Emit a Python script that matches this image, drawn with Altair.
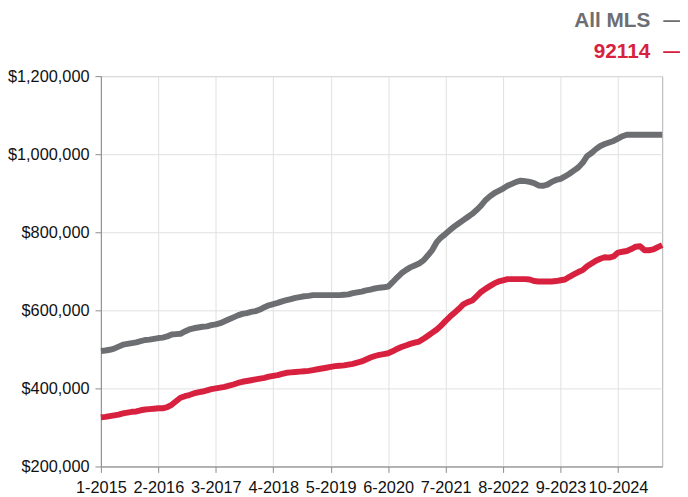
import altair as alt
import pandas as pd

# Month categories Jan 2015 .. Aug 2025
months = []
for yr in range(2015, 2026):
    for mo in range(1, 13):
        if yr == 2025 and mo > 8:
            break
        months.append(f"{mo}-{yr}")

tick_labels = ["1-2015", "2-2016", "3-2017", "4-2018", "5-2019",
               "6-2020", "7-2021", "8-2022", "9-2023", "10-2024"]

series_names = ["All MLS", "92114"]
series_colors = ["#6d6e72", "#d7213f"]

# Rolling median sale price, thousands of dollars
all_mls = [
    496, 497, 499, 502, 507, 512, 514, 516, 518, 521, 524, 525, 527,
    529, 530, 533, 538, 539, 540, 546, 551, 554, 556, 558, 559, 562,
    564, 567, 572, 577, 582, 587, 591, 593, 596, 598, 602, 608, 613,
    616, 619, 623, 626, 629, 632, 634, 636, 637, 639, 639, 639, 639,
    639, 639, 639, 640, 641, 644, 646, 648, 651, 653, 656, 658, 659,
    661, 672, 684, 695, 703, 710, 715, 720, 728, 741, 755, 775, 787,
    796, 806, 815, 823, 831, 839, 847, 857, 868, 882, 892, 900, 906,
    912, 919, 924, 929, 932, 931, 929, 926, 920, 919, 922, 929, 934,
    937, 943, 950, 958, 966, 978, 995, 1003, 1013, 1021, 1026, 1030,
    1034, 1040, 1046, 1050, 1050, 1050, 1050, 1050, 1050, 1050, 1050, 1050,
]
zip_92114 = [
    326, 327, 329, 331, 333, 336, 338, 340, 341, 344, 346, 347, 348,
    349, 349, 352, 358, 367, 376, 380, 383, 387, 390, 392, 395, 398,
    400, 402, 404, 407, 410, 414, 417, 419, 421, 423, 425, 427, 430,
    432, 434, 437, 440, 441, 442, 443, 444, 445, 447, 449, 451, 453,
    455, 457, 458, 459, 461, 463, 466, 469, 474, 479, 483, 486, 488,
    490, 495, 501, 506, 510, 514, 517, 520, 527, 535, 543, 551, 561,
    573, 584, 594, 604, 615, 621, 625, 636, 647, 655, 662, 669, 674,
    677, 680, 680, 680, 680, 680, 679, 675, 674, 674, 674, 674, 675,
    677, 679, 686, 692, 698, 703, 713, 720, 727, 732, 736, 735, 738,
    748, 750, 752, 757, 763, 764, 754, 754, 756, 762, 767,
]

rows = []
for name, vals in zip(series_names, [all_mls, zip_92114]):
    for m, v in zip(months, vals):
        rows.append({"month": m, "series": name, "price": v * 1000})
df = pd.DataFrame(rows)

FONT = "Liberation Sans"

color_scale = alt.Scale(domain=series_names, range=series_colors)

lines = alt.Chart(df).mark_line(strokeWidth=6, strokeJoin="round", strokeCap="butt").encode(
    x=alt.X("month:O", sort=months,
            scale=alt.Scale(type="point", padding=0),
            axis=alt.Axis(values=tick_labels, labelAngle=0, title=None,
                          grid=True, gridColor="#e0e0e0",
                          domainColor="#8a8a8a", tickColor="#8a8a8a",
                          tickSize=6, labelPadding=7,
                          labelFont=FONT, labelFontSize=16.5, labelColor="#111111")),
    y=alt.Y("price:Q",
            scale=alt.Scale(domain=[200000, 1200000], nice=False, zero=False),
            axis=alt.Axis(values=[200000, 400000, 600000, 800000, 1000000, 1200000],
                          format="$,.0f", title=None,
                          grid=True, gridColor="#e0e0e0",
                          domainColor="#8a8a8a", tickColor="#8a8a8a",
                          tickSize=6, labelPadding=6,
                          labelFont=FONT, labelFontSize=16.5, labelColor="#111111")),
    color=alt.Color("series:N", scale=color_scale, legend=None),
    detail="series:N",
)

legend_df = pd.DataFrame({"series": series_names, "row": [0, 1]})
legend_y = alt.Y("row:Q", scale=alt.Scale(domain=[0, 1], range=[-56, -24]), axis=None)

legend_text = alt.Chart(legend_df).mark_text(
    align="right", baseline="middle", font=FONT, fontSize=21, fontWeight="bold"
).encode(
    text="series:N",
    x=alt.value(556),
    y=legend_y,
    color=alt.Color("series:N", scale=color_scale, legend=None),
)

legend_dash = alt.Chart(legend_df).mark_text(
    align="left", baseline="middle", font=FONT, fontSize=17, fontWeight="bold", text="—"
).encode(
    x=alt.value(569),
    y=legend_y,
    color=alt.Color("series:N", scale=color_scale, legend=None),
)

chart = alt.layer(lines, legend_text, legend_dash).resolve_scale(y="independent").properties(
    width=568, height=395,
    padding={"left": 94, "top": 66, "right": 18, "bottom": 32},
    autosize=alt.AutoSizeParams(type="none"),
).configure_view(stroke="#b0b0b0", strokeWidth=1)

chart.save("out.html", embed_options={"renderer": "svg", "actions": False})
